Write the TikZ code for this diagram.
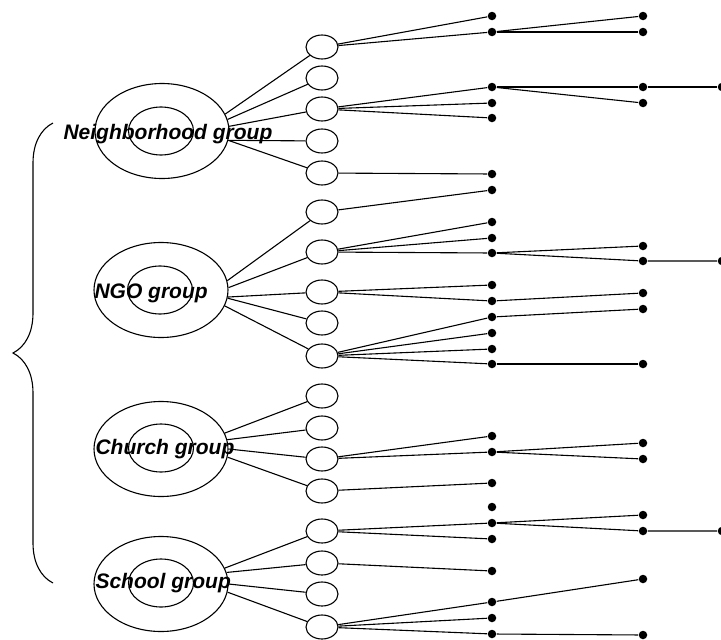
\documentclass[tikz,border=0pt]{standalone}
\usepackage{fontspec}
\setmainfont{Liberation Sans}
\usepackage{tikz}
\usetikzlibrary{shapes.geometric, decorations.pathreplacing}

\begin{document}
\begin{tikzpicture}[x=1pt, y=-1pt, line width=1.1pt,
    outer/.style={ellipse, draw, inner sep=0pt, minimum width=134pt, minimum height=95pt},
    core/.style={ellipse, draw, inner sep=0pt, minimum width=65pt, minimum height=48pt},
    member/.style={ellipse, draw, inner sep=0pt, minimum width=32pt, minimum height=24pt},
    dot/.style={circle, fill=black, inner sep=0pt, minimum size=8.5pt},
    lbl/.style={anchor=base west, inner sep=0pt, font=\fontsize{21}{25}\selectfont\bfseries\itshape}]
            \useasboundingbox (0,0) rectangle (721,640);

            % groups
            \node[outer] at (162, 131) (N) {};
            \node[core]  at (161, 131) (Ni) {};
            \node[outer] at (161, 290) (G) {};
            \node[core]  at (160, 290) (Gi) {};
            \node[outer] at (161, 449) (C) {};
            \node[core]  at (161, 448) (Ci) {};
            \node[outer] at (161, 584) (S) {};
            \node[core]  at (161, 583) (Si) {};

            % members
            \node[member] at (322, 47)  (n1) {};
            \node[member] at (322, 78)  (n2) {};
            \node[member] at (322, 109) (n3) {};
            \node[member] at (322, 141) (n4) {};
            \node[member] at (322, 173) (n5) {};
            \node[member] at (322, 212) (g1) {};
            \node[member] at (322, 252) (g2) {};
            \node[member] at (322, 292) (g3) {};
            \node[member] at (322, 323) (g4) {};
            \node[member] at (322, 356) (g5) {};
            \node[member] at (322, 396) (c1) {};
            \node[member] at (322, 428) (c2) {};
            \node[member] at (322, 459) (c3) {};
            \node[member] at (322, 491) (c4) {};
            \node[member] at (322, 531) (s1) {};
            \node[member] at (322, 563) (s2) {};
            \node[member] at (322, 594) (s3) {};
            \node[member] at (322, 627) (s4) {};

            % first column of contacts
            \node[dot] at (492, 16)  (p1) {};
            \node[dot] at (492, 32)  (p2) {};
            \node[dot] at (492, 87)  (p3) {};
            \node[dot] at (492, 103) (p4) {};
            \node[dot] at (492, 118) (p5) {};
            \node[dot] at (492, 174) (p6) {};
            \node[dot] at (492, 190) (p7) {};
            \node[dot] at (492, 222) (p8) {};
            \node[dot] at (492, 238) (p9) {};
            \node[dot] at (492, 253) (p10) {};
            \node[dot] at (492, 285) (p11) {};
            \node[dot] at (492, 301) (p12) {};
            \node[dot] at (492, 317) (p13) {};
            \node[dot] at (492, 333) (p14) {};
            \node[dot] at (492, 349) (p15) {};
            \node[dot] at (492, 364) (p16) {};
            \node[dot] at (492, 436) (p17) {};
            \node[dot] at (492, 452) (p18) {};
            \node[dot] at (492, 483) (p19) {};
            \node[dot] at (492, 507) (p20) {};
            \node[dot] at (492, 523) (p21) {};
            \node[dot] at (492, 539) (p22) {};
            \node[dot] at (492, 571) (p23) {};
            \node[dot] at (492, 602) (p24) {};
            \node[dot] at (492, 618) (p25) {};
            \node[dot] at (492, 634) (p26) {};

            % second column
            \node[dot] at (643, 16)  (q1) {};
            \node[dot] at (643, 32)  (q2) {};
            \node[dot] at (643, 87)  (q3) {};
            \node[dot] at (643, 103) (q4) {};
            \node[dot] at (643, 246) (q5) {};
            \node[dot] at (643, 261) (q6) {};
            \node[dot] at (643, 293) (q7) {};
            \node[dot] at (643, 309) (q8) {};
            \node[dot] at (643, 364) (q9) {};
            \node[dot] at (643, 443) (q10) {};
            \node[dot] at (643, 459) (q11) {};
            \node[dot] at (643, 515) (q12) {};
            \node[dot] at (643, 531) (q13) {};
            \node[dot] at (643, 579) (q14) {};
            \node[dot] at (643, 635) (q15) {};

            % third column
            \node[dot] at (722, 87)  (r1) {};
            \node[dot] at (722, 261) (r2) {};
            \node[dot] at (722, 531) (r3) {};

            % group to members
            \draw (N.15) -- (n1);
            \draw (N.10) -- (n2);
            \draw (N.4) -- (n3);
            \draw (N.-8) -- (n4);
            \draw (N.-8) -- (n5);
            \draw (G.8) -- (g1);
            \draw (G.2) -- (g2);
            \draw (G.-6) -- (g3);
            \draw (G.-7) -- (g4);
            \draw (G.-14) -- (g5);
            \draw (C.14) -- (c1);
            \draw (C.8) -- (c2);
            \draw (C.0) -- (c3);
            \draw (C.-7) -- (c4);
            \draw (S.14) -- (s1);
            \draw (S.10) -- (s2);
            \draw (S.0) -- (s3);
            \draw (S.-7) -- (s4);

            % members to contacts
            \draw (n1) -- (p1);
            \draw (n1) -- (p2);
            \draw (p2) -- (q1);
            \draw (p2) -- (q2);
            \draw (n3) -- (p3);
            \draw (n3) -- (p4);
            \draw (n3) -- (p5);
            \draw (p3) -- (q3) -- (r1);
            \draw (p3) -- (q4);
            \draw (n5) -- (p6);

            \draw (g1) -- (p7);
            \draw (g2) -- (p8);
            \draw (g2) -- (p9);
            \draw (g2) -- (p10);
            \draw (p10) -- (q5);
            \draw (p10) -- (q6) -- (r2);
            \draw (g3) -- (p11);
            \draw (g3) -- (p12);
            \draw (p12) -- (q7);
            \draw (g5) -- (p13);
            \draw (g5) -- (p14);
            \draw (g5) -- (p15);
            \draw (g5) -- (p16);
            \draw (p13) -- (q8);
            \draw (p16) -- (q9);

            \draw (c3) -- (p17);
            \draw (c3) -- (p18);
            \draw (p18) -- (q10);
            \draw (p18) -- (q11);
            \draw (c4) -- (p19);

            \draw (s1) -- (p21);
            \draw (s1) -- (p22);
            \draw (p21) -- (q12);
            \draw (p21) -- (q13) -- (r3);
            \draw (s2) -- (p23);
            \draw (s4) -- (p24);
            \draw (s4) -- (p25);
            \draw (s4) -- (p26);
            \draw (p24) -- (q14);
            \draw (p26) -- (q15);

            % labels
            \node[lbl] at (63, 139) (tN) {Neighborhood group};
            \node[lbl] at (94, 298) (tG) {NGO group};
            \node[lbl] at (95, 454) (tC) {Church group};
            \node[lbl] at (95, 588) (tS) {School group};

            % brace
            \coordinate (bt) at (53, 123);
            \coordinate (bb) at (53, 583);
            \draw [decorate, decoration={brace, amplitude=40pt}] (bb) -- (bt);
        \end{tikzpicture}
\end{document}
